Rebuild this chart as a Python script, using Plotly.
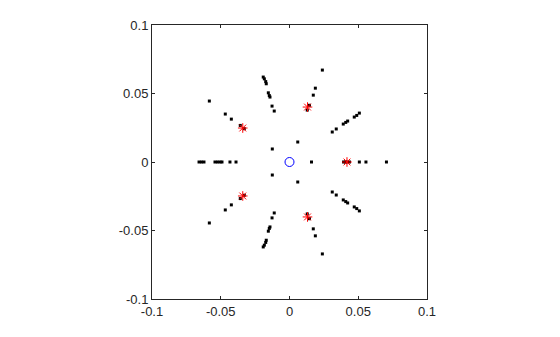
import plotly.graph_objects as go

# Black square markers (roots)
root_re = [
    # real axis
    0.0160, 0.0393, 0.0407, 0.0422, 0.0436, 0.0508, 0.0556, 0.0705,
    -0.0658, -0.0640, -0.0622, -0.0542, -0.0524, -0.0505, -0.0491, -0.0433, -0.0389,
    # 36 deg ray
    0.0508, 0.0489, 0.0471, 0.0423, 0.0409, 0.0391, 0.0340, 0.0311,
    # 72 deg ray
    0.0239, 0.0188, 0.0173, 0.0145, 0.0129, 0.0060,
    # 108 deg ray
    -0.0191, -0.0183, -0.0173, -0.0169, -0.0154, -0.0147, -0.0142, -0.0127, -0.0111,
    # 144 deg ray
    -0.0583, -0.0467, -0.0423, -0.0358, -0.0329, -0.0125,
    # -36 deg ray
    0.0508, 0.0489, 0.0471, 0.0423, 0.0409, 0.0391, 0.0340, 0.0311,
    # -72 deg ray
    0.0239, 0.0188, 0.0173, 0.0145, 0.0129, 0.0060,
    # -108 deg ray
    -0.0191, -0.0183, -0.0173, -0.0169, -0.0154, -0.0147, -0.0142, -0.0127, -0.0111,
    # -144 deg ray
    -0.0583, -0.0467, -0.0423, -0.0358, -0.0329, -0.0125,
]
root_im = [
    0, 0, 0, 0, 0, 0, 0, 0,
    0, 0, 0, 0, 0, 0, 0, 0, 0,
    0.0357, 0.0340, 0.0328, 0.0299, 0.0289, 0.0277, 0.0241, 0.0219,
    0.0671, 0.0539, 0.0488, 0.0414, 0.0379, 0.0146,
    0.0620, 0.0607, 0.0587, 0.0571, 0.0505, 0.0485, 0.0474, 0.0408, 0.0372,
    0.0445, 0.0350, 0.0313, 0.0267, 0.0243, 0.0095,
    -0.0357, -0.0340, -0.0328, -0.0299, -0.0289, -0.0277, -0.0241, -0.0219,
    -0.0671, -0.0539, -0.0488, -0.0414, -0.0379, -0.0146,
    -0.0620, -0.0607, -0.0587, -0.0571, -0.0505, -0.0485, -0.0474, -0.0408, -0.0372,
    -0.0445, -0.0350, -0.0313, -0.0267, -0.0243, -0.0095,
]

# Red asterisks
star_re = [0.0418, 0.0131, -0.0340, -0.0340, 0.0131]
star_im = [0.0, 0.0401, 0.0248, -0.0248, -0.0401]

# Blue circle
zero_re = [0.0]
zero_im = [0.0]

tick_vals = [-0.1, -0.05, 0, 0.05, 0.1]
tick_text = ["-0.1", "-0.05", "0", "0.05", "0.1"]

fig = go.Figure()
fig.add_trace(go.Scatter(
    x=root_re, y=root_im, mode="markers",
    marker=dict(symbol="square", size=3, color="black", line=dict(width=0)),
    hoverinfo="skip", showlegend=False))
fig.add_trace(go.Scatter(
    x=star_re, y=star_im, mode="markers",
    marker=dict(symbol="asterisk-open", size=8, color="red", line=dict(color="red", width=1)),
    hoverinfo="skip", showlegend=False))
fig.add_trace(go.Scatter(
    x=zero_re, y=zero_im, mode="markers",
    marker=dict(symbol="circle-open", size=9, color="blue", line=dict(color="blue", width=1)),
    hoverinfo="skip", showlegend=False))

axis_common = dict(
    range=[-0.1, 0.1], tickvals=tick_vals, ticktext=tick_text,
    showgrid=False, zeroline=False, showline=True, mirror="ticks",
    linecolor="#262626", linewidth=1, ticks="inside", ticklen=3,
    tickcolor="#262626", tickfont=dict(family="Liberation Sans, Arial", size=13, color="#262626"),
)

fig.update_layout(
    width=560, height=337,
    margin=dict(l=152, r=133, t=25, b=38),
    paper_bgcolor="white", plot_bgcolor="white",
    xaxis=dict(**axis_common),
    yaxis=dict(**axis_common),
)

fig.write_html("out.html")
